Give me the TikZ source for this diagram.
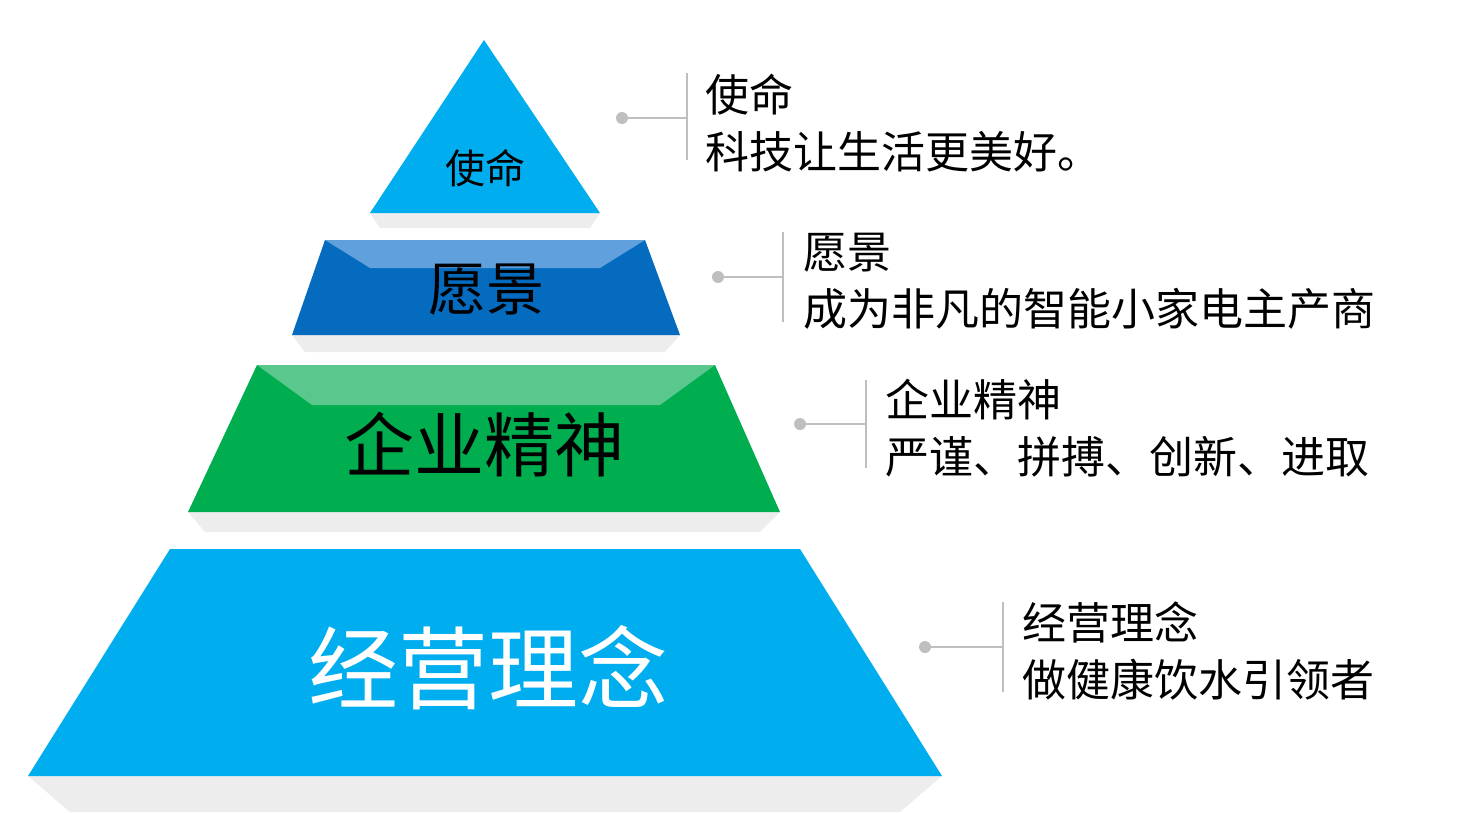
\documentclass[tikz,border=0pt]{standalone}
\usepackage{fontspec}
\newfontfamily\cjk{Noto Sans CJK SC}
\definecolor{cya}{RGB}{0,174,239}
\definecolor{dblue}{RGB}{4,107,190}
\definecolor{lblue}{RGB}{96,160,220}
\definecolor{grn}{RGB}{0,174,80}
\definecolor{lgrn}{RGB}{90,200,140}
\begin{document}
\begin{tikzpicture}[x=1pt,y=-1pt,
  lbl/.style={font=\cjk\fontsize{44}{57}\selectfont, anchor=west, align=left, inner sep=0pt},
  conn/.style={draw=black!25, line width=1.5pt},
  dotc/.style={circle, fill=black!25, minimum size=12pt, inner sep=0pt},
  shade/.style={fill=black!7}]
\useasboundingbox (0,0) rectangle (1476,812);
% shadows
\fill[shade] (370,213) -- (600,213) -- (590,228) -- (380,228) -- cycle;
\fill[shade] (292,335) -- (680,335) -- (665,352) -- (305,352) -- cycle;
\fill[shade] (188,512) -- (780,512) -- (760,532) -- (205,532) -- cycle;
\fill[shade] (28,776) -- (942,776) -- (900,812) -- (70,812) -- cycle;
% tiers
\fill[cya] (484,40) -- (600,213) -- (370,213) -- cycle;
\fill[dblue] (325,240) -- (645,240) -- (680,335) -- (292,335) -- cycle;
\fill[lblue] (325,240) -- (645,240) -- (600,268) -- (370,268) -- cycle;
\fill[grn] (257,365) -- (715,365) -- (780,512) -- (188,512) -- cycle;
\fill[lgrn] (257,365) -- (715,365) -- (660,405) -- (312,405) -- cycle;
\fill[cya] (170,549) -- (800,549) -- (942,776) -- (28,776) -- cycle;
% tier labels
\node[font=\cjk, text=black, inner sep=0pt] (t1) at (485,168) {\fontsize{40}{40}\selectfont 使命};
\node[font=\cjk, text=black, inner sep=0pt] (t2) at (486,290) {\fontsize{58}{58}\selectfont 愿景};
\node[font=\cjk, text=black, inner sep=0pt] (t3) at (484,445) {\fontsize{70}{70}\selectfont 企业精神};
\node[font=\cjk, text=white, inner sep=0pt] (t4) at (488,668) {\fontsize{90}{90}\selectfont 经营理念};
% connectors
\foreach \i/\dx/\vx/\yc/\ya/\yb in {1/622/687/118/73/160, 2/718/783/277/232/322, 3/800/866/424/380/468, 4/925/1003/647/602/692}{
  \node[dotc] (d\i) at (\dx,\yc) {};
  \coordinate (h\i) at (\vx,\yc);
  \coordinate (va\i) at (\vx,\ya);
  \coordinate (vb\i) at (\vx,\yb);
  \draw[conn] (d\i) -- (h\i);
  \draw[conn] (va\i) -- (vb\i);
}
\node[lbl] (r1) at (705,123) {使命\\科技让生活更美好。};
\node[lbl] (r2) at (803,281) {愿景\\成为非凡的智能小家电主产商};
\node[lbl] (r3) at (885,428) {企业精神\\严谨、拼搏、创新、进取};
\node[lbl] (r4) at (1022,651) {经营理念\\做健康饮水引领者};
\end{tikzpicture}
\end{document}
